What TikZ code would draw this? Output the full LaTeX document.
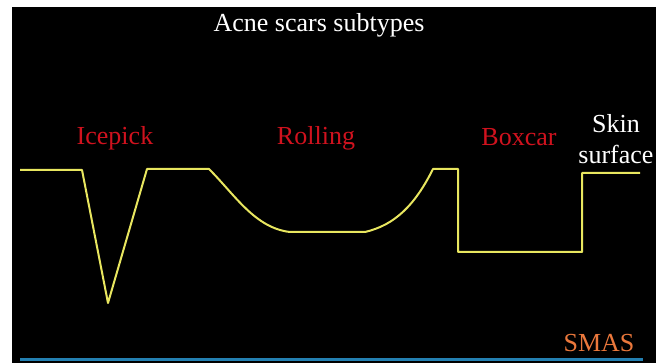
\documentclass[tikz,border=0pt]{standalone}
\usepackage{fontspec}
\setmainfont{Liberation Serif}
\usepackage{tikz}
\usetikzlibrary{arrows.meta, calc, positioning}

\definecolor{skinline}{RGB}{232,230,95}
\definecolor{scarred}{RGB}{208,18,30}
\definecolor{smasorange}{RGB}{235,120,60}
\definecolor{smasblue}{RGB}{35,128,178}

\begin{document}
\begin{tikzpicture}[>=stealth, x=1pt, y=-1pt, font=\fontsize{26}{31}\selectfont]
    % Frame
    \useasboundingbox (0,0) rectangle (665,363);
    \fill[white] (0,0) rectangle (665,363);
    \fill[black] (12,7) rectangle (656,363);

    % Title
    \node[white, anchor=base] (title) at (319,32) {Acne scars subtypes};

    % Scar labels
    \node[scarred, anchor=base] (icepick) at (115,145) {Icepick};
    \node[scarred, anchor=base] (rolling) at (316,145) {Rolling};
    \node[scarred, anchor=base] (boxcar) at (519,146) {Boxcar};
    \node[white, align=center] (skin) at (616,139) {Skin\\surface};

    % Skin profile
    \draw[skinline, line width=2pt, line join=round]
        (20,170) -- (82,170) -- (108,303) -- (147,169) -- (209,169)
        .. controls (235,195) and (255,228) .. (290,232)
        -- (365,232) .. controls (395,225) and (415,205) .. (433,169)
        -- (458,169) -- (458,252) -- (582,252) -- (582,173) -- (640,173);

    % SMAS layer
    \node[smasorange, anchor=base] (smas) at (599,352) {SMAS};
    \draw[smasblue, line width=3pt] (20,360) -- (643,360);
\end{tikzpicture}
\end{document}
